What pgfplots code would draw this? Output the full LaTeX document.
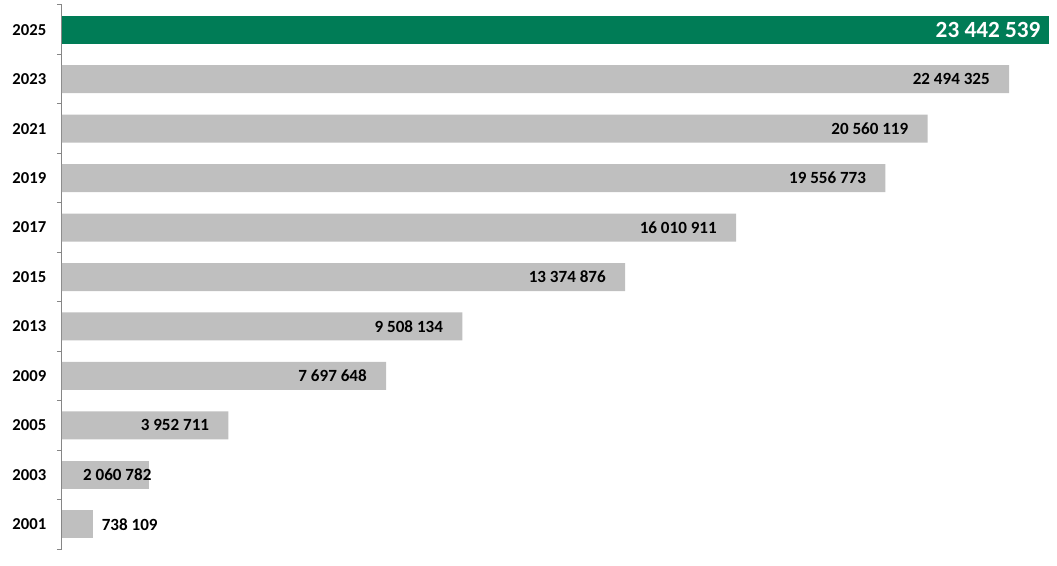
\documentclass[border=0pt]{standalone}
\usepackage{fontspec}
\setmainfont{Carlito}
\usepackage{pgfplots}
\pgfplotsset{compat=1.18}
\usetikzlibrary{calc}
\definecolor{barGreen}{RGB}{0,124,86}
\definecolor{barGray}{RGB}{191,191,191}
\definecolor{axisGray}{RGB}{134,134,134}
\begin{document}
\begin{tikzpicture}
\begin{axis}[
  scale only axis,
  width=746.25pt, height=408pt,
  xbar, bar shift=0pt, bar width=21pt,
  xmin=0, xmax=23632500,
  ymin=-0.5, ymax=10.5,
  axis x line=none,
  axis y line*=left,
  y axis line style={axisGray, line width=0.75pt, -},
  ytick={0,...,10},
  yticklabels={2001,2003,2005,2009,2013,2015,2017,2019,2021,2023,2025},
  major tick length=0pt,
  minor ytick={-0.5,0.5,...,10.5},
  minor tick length=3.75pt,
  tick align=outside,
  minor tick style={axisGray, line width=0.75pt},
  yticklabel style={font=\bfseries\fontsize{12.5}{14}\selectfont, text=black, xshift=-8.25pt},
  point meta=explicit symbolic,
  clip=false,
]
% gray bars, label inside the end
\addplot [fill=barGray, draw=none, nodes near coords,
  every node near coord/.append style={anchor=east, xshift=-11pt,
    font=\bfseries\fontsize{12.8}{14}\selectfont, text=black}]
  table [x=v, y=y, meta=lab, col sep=comma] {
y,v,lab
2,3952711,3 952 711
3,7697648,7 697 648
4,9508134,9 508 134
5,13374876,13 374 876
6,16010911,16 010 911
7,19556773,19 556 773
8,20560119,20 560 119
9,22494325,22 494 325
};
% 2003: label runs past the bar end
\addplot [fill=barGray, draw=none, nodes near coords,
  every node near coord/.append style={anchor=east, xshift=5.5pt,
    font=\bfseries\fontsize{12.8}{14}\selectfont, text=black}]
  table [x=v, y=y, meta=lab, col sep=comma] {
y,v,lab
1,2060782,2 060 782
};
% 2001: label outside
\addplot [fill=barGray, draw=none, nodes near coords,
  every node near coord/.append style={anchor=west, xshift=3pt,
    font=\bfseries\fontsize{12.8}{14}\selectfont, text=black}]
  table [x=v, y=y, meta=lab, col sep=comma] {
y,v,lab
0,738109,738 109
};
% 2025 highlighted
\addplot [fill=barGreen, draw=none, nodes near coords,
  every node near coord/.append style={anchor=east, xshift=-3pt,
    font=\bfseries\fontsize{17.4}{19}\selectfont, text=white}]
  table [x=v, y=y, meta=lab, col sep=comma] {
y,v,lab
10,23442539,23 442 539
};
\end{axis}
\pgfresetboundingbox
\path ($(current axis.south west)+(-46.5pt,-12pt)$) rectangle ($(current axis.north east)+(0pt,3.75pt)$);
\end{tikzpicture}
\end{document}
